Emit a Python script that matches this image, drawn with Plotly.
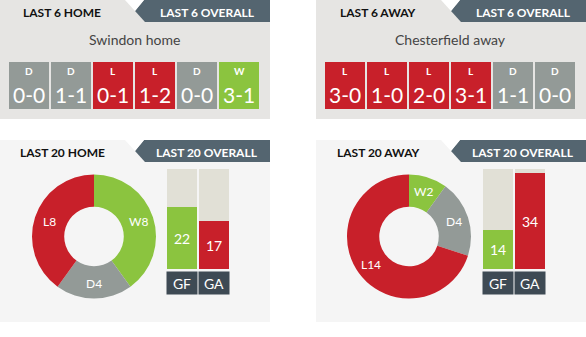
import math
import plotly.graph_objects as go

W, H = 586, 337

# ---- data ----
home_team = "Swindon home"
away_team = "Chesterfield away"

home6_results = ["D", "D", "L", "L", "D", "W"]
home6_scores = ["0-0", "1-1", "0-1", "1-2", "0-0", "3-1"]
away6_results = ["L", "L", "L", "L", "D", "D"]
away6_scores = ["3-0", "1-0", "2-0", "3-1", "1-1", "0-0"]

outcome_labels = ["W", "D", "L"]
home20_counts = [8, 4, 8]
away20_counts = [2, 4, 14]

goal_cats = ["GF", "GA"]
home20_goals = [22, 17]
away20_goals = [14, 34]
goal_scale = 35.5

# ---- styling ----
GREEN = "#8bc43f"
GREY = "#939a97"
RED = "#c8202a"
SLATE = "#546570"
LABEL_BG = "#3e4a54"
TRACK = "#e1e0d6"
TOP_BG = "#e6e5e3"
BOT_BG = "#f5f5f5"
FONT = "Lato"
result_colour = {"W": GREEN, "D": GREY, "L": RED}


def px(x):
    return x / W


def py(y):
    return 1 - y / H


def path(points):
    return "M " + " L ".join(f"{px(x):.5f},{py(y):.5f}" for x, y in points) + " Z"


shapes = []
annotations = []


def panel(x0, y0, y1, bg, tab_h, left_title, right_title):
    # panel background
    shapes.append(dict(type="rect", xref="paper", yref="paper", layer="below",
                       x0=px(x0), x1=px(x0 + 270), y0=py(y1), y1=py(y0),
                       fillcolor=bg, line_width=0))
    # dark tab with notched left edge
    shapes.append(dict(type="path", xref="paper", yref="paper", layer="below",
                       path=path([(x0 + 144, y0), (x0 + 270, y0), (x0 + 270, y0 + tab_h),
                                  (x0 + 145, y0 + tab_h), (x0 + 135, y0 + tab_h / 2)]),
                       fillcolor=SLATE, line_width=0))
    # white notch between the tabs
    shapes.append(dict(type="path", xref="paper", yref="paper", layer="below",
                       path=path([(x0 + 125, y0), (x0 + 144, y0), (x0 + 135, y0 + tab_h / 2)]),
                       fillcolor="white", line_width=0))
    annotations.append(dict(xref="paper", yref="paper", x=px(x0 + 62), y=py(y0 + tab_h / 2 + 1),
                            text=left_title, showarrow=False, xanchor="center", yanchor="middle",
                            font=dict(family=FONT, size=12, color="#111111", weight="bold")))
    annotations.append(dict(xref="paper", yref="paper", x=px(x0 + 207), y=py(y0 + tab_h / 2 + 1),
                            text=right_title, showarrow=False, xanchor="center", yanchor="middle",
                            font=dict(family=FONT, size=12, color="white", weight="bold")))


panel(0, 0, 119, TOP_BG, 22, "LAST 6 HOME", "LAST 6 OVERALL")
panel(316, 0, 119, TOP_BG, 22, "LAST 6 AWAY", "LAST 6 OVERALL")
panel(0, 140, 322, BOT_BG, 22, "LAST 20 HOME", "LAST 20 OVERALL")
panel(316, 140, 322, BOT_BG, 22, "LAST 20 AWAY", "LAST 20 OVERALL")

for x0, name in [(0, home_team), (316, away_team)]:
    annotations.append(dict(xref="paper", yref="paper", x=px(x0 + 134), y=py(39),
                            text=name, showarrow=False, xanchor="center", yanchor="middle",
                            font=dict(family=FONT, size=14, color="#444444")))

fig = go.Figure()

# ---- last 6 result tiles ----
tile_axes = [("x", "y", home6_results, home6_scores),
             ("x2", "y2", away6_results, away6_scores)]
for xa, ya, results, scores in tile_axes:
    idx = list(range(len(results)))
    fig.add_trace(go.Bar(x=idx, y=[1] * len(results), xaxis=xa, yaxis=ya,
                         marker=dict(color=[result_colour[r] for r in results], line_width=0),
                         width=40 / 42, hoverinfo="skip", showlegend=False))
    for i, (r, s) in enumerate(zip(results, scores)):
        annotations.append(dict(xref=xa, yref=ya, x=i, y=0.80, text=r, showarrow=False,
                                xanchor="center", yanchor="middle",
                                font=dict(family=FONT, size=10, color="white", weight="bold")))
        annotations.append(dict(xref=xa, yref=ya, x=i, y=0.31, text=s, showarrow=False,
                                xanchor="center", yanchor="middle",
                                font=dict(family=FONT, size=21, color="white")))

# ---- last 20 donuts ----
donuts = [(94, 236.5, home20_counts), (409, 236.5, away20_counts)]
R_OUT = 62
for cx, cy, counts in donuts:
    fig.add_trace(go.Pie(labels=outcome_labels, values=counts, hole=0.48, sort=False,
                         direction="clockwise", rotation=0, textinfo="none",
                         marker=dict(colors=[GREEN, GREY, RED], line=dict(width=0)),
                         domain=dict(x=[px(cx - R_OUT), px(cx + R_OUT)],
                                     y=[py(cy + R_OUT), py(cy - R_OUT)]),
                         hoverinfo="skip", showlegend=False))
    total = sum(counts)
    cum = 0
    for lab, c in zip(outcome_labels, counts):
        mid = (cum + c / 2) / total * 2 * math.pi
        cum += c
        lx = cx + 47 * math.sin(mid)
        ly = cy - 47 * math.cos(mid)
        annotations.append(dict(xref="paper", yref="paper", x=px(lx), y=py(ly),
                                text=f"{lab}{c}", showarrow=False, xanchor="center", yanchor="middle",
                                font=dict(family=FONT, size=12, color="white")))

# ---- goals for / against bars ----
bar_axes = [("x3", "y3", home20_goals), ("x4", "y4", away20_goals)]
for xa, ya, goals in bar_axes:
    fig.add_trace(go.Bar(x=goal_cats, y=[goal_scale] * len(goal_cats), xaxis=xa, yaxis=ya,
                         marker=dict(color=TRACK, line_width=0), width=30 / 32,
                         hoverinfo="skip", showlegend=False))
    fig.add_trace(go.Bar(x=goal_cats, y=goals, xaxis=xa, yaxis=ya,
                         marker=dict(color=[GREEN, RED], line_width=0), width=30 / 32,
                         text=[str(g) for g in goals], textposition="inside",
                         insidetextanchor="middle", textangle=0, constraintext="none",
                         textfont=dict(family=FONT, size=14, color="white"),
                         hoverinfo="skip", showlegend=False))
    for cat in goal_cats:
        annotations.append(dict(xref=xa, yref="paper", x=cat, y=py(283), text=cat,
                                showarrow=False, xanchor="center", yanchor="middle",
                                width=30, height=22, borderpad=0, bgcolor=LABEL_BG,
                                font=dict(family=FONT, size=14, color="white")))

hidden = dict(visible=False, fixedrange=True)
fig.update_layout(
    width=W, height=H, margin=dict(l=0, r=0, t=0, b=0),
    paper_bgcolor="white", plot_bgcolor="rgba(0,0,0,0)",
    barmode="overlay", bargap=0,
    shapes=shapes, annotations=annotations,
    xaxis=dict(domain=[px(8), px(260)], range=[-0.5, 5.5], **hidden),
    yaxis=dict(domain=[py(109), py(62)], range=[0, 1], **hidden),
    xaxis2=dict(domain=[px(324), px(576)], range=[-0.5, 5.5], **hidden),
    yaxis2=dict(domain=[py(109), py(62)], range=[0, 1], **hidden),
    xaxis3=dict(domain=[px(166), px(230)], range=[-0.5, 1.5], type="category", **hidden),
    yaxis3=dict(domain=[py(269), py(169)], range=[0, goal_scale], **hidden),
    xaxis4=dict(domain=[px(482), px(546)], range=[-0.5, 1.5], type="category", **hidden),
    yaxis4=dict(domain=[py(269), py(169)], range=[0, goal_scale], **hidden),
)

fig.write_html("out.html")
